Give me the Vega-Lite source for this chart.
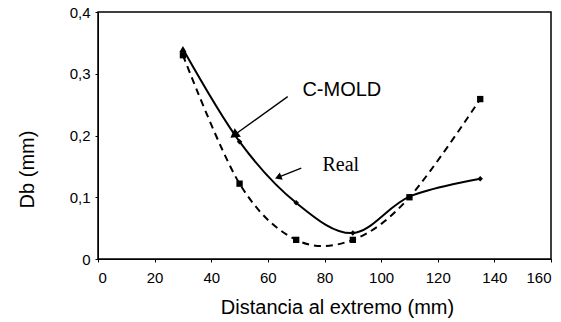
{
  "$schema": "https://vega.github.io/schema/vega-lite/v6.json",
  "width": 453,
  "height": 247,
  "autosize": {"type": "none"},
  "padding": {"left": 98, "top": 12, "right": 10, "bottom": 63},
  "background": "white",
  "config": {
    "font": "Liberation Sans",
    "view": {"stroke": "black", "strokeWidth": 1.5},
    "axis": {
      "domainColor": "black",
      "tickColor": "black",
      "labelColor": "black",
      "titleColor": "black",
      "labelFont": "Liberation Sans",
      "titleFont": "Liberation Sans",
      "labelFontSize": 15,
      "titleFontSize": 20,
      "titleFontWeight": "normal",
      "grid": false,
      "tickSize": 3
    }
  },
  "datasets": {
    "curves": [
      {"serie": "C-MOLD", "x": 30, "y": 0.34},
      {"serie": "C-MOLD", "x": 50, "y": 0.19},
      {"serie": "C-MOLD", "x": 70, "y": 0.091},
      {"serie": "C-MOLD", "x": 90, "y": 0.042},
      {"serie": "C-MOLD", "x": 110, "y": 0.101},
      {"serie": "C-MOLD", "x": 135, "y": 0.13},
      {"serie": "Real", "x": 30, "y": 0.33},
      {"serie": "Real", "x": 50, "y": 0.122},
      {"serie": "Real", "x": 70, "y": 0.031},
      {"serie": "Real", "x": 90, "y": 0.031},
      {"serie": "Real", "x": 110, "y": 0.1},
      {"serie": "Real", "x": 135, "y": 0.259}
    ],
    "arrows": [
      {"label": "C-MOLD", "x": 67, "y": 0.263, "x2": 48.5, "y2": 0.202},
      {"label": "Real", "x": 71.8, "y": 0.147, "x2": 64, "y2": 0.133}
    ],
    "labels": [
      {"label": "C-MOLD", "x": 72.2, "y": 0.274},
      {"label": "Real", "x": 79.3, "y": 0.152}
    ]
  },
  "layer": [
    {
      "data": {"name": "curves"},
      "transform": [{"filter": "datum.serie == 'Real'"}],
      "mark": {"type": "line", "interpolate": "cardinal", "color": "black", "strokeWidth": 2, "strokeDash": [7, 5]},
      "encoding": {
        "x": {"field": "x", "type": "quantitative", "scale": {"domain": [0, 160], "nice": false},
          "axis": {"values": [0, 20, 40, 60, 80, 100, 120, 140, 160], "title": "Distancia al extremo (mm)", "labelPadding": 8, "titleX": 239, "titleY": 54, "titleBaseline": "alphabetic", "titleAlign": "center"}},
        "y": {"field": "y", "type": "quantitative", "scale": {"domain": [0, 0.4], "nice": false},
          "axis": {"values": [0, 0.05, 0.1, 0.15, 0.2, 0.25, 0.3, 0.35, 0.4], "labelPadding": 5,
            "labelExpr": "round(datum.value * 20) % 2 == 1 ? '' : (datum.value == 0 ? '0' : replace(format(datum.value, '.1f'), '.', ','))",
            "title": "Db (mm)", "titleAngle": -90, "titleX": -71, "titleY": 157, "titleBaseline": "middle", "titleAlign": "center"}}
      }
    },
    {
      "data": {"name": "curves"},
      "transform": [{"filter": "datum.serie == 'C-MOLD'"}],
      "mark": {"type": "line", "interpolate": "cardinal", "color": "black", "strokeWidth": 2},
      "encoding": {
        "x": {"field": "x", "type": "quantitative"},
        "y": {"field": "y", "type": "quantitative"}
      }
    },
    {
      "data": {"name": "curves"},
      "transform": [{"filter": "datum.serie == 'Real'"}],
      "mark": {"type": "point", "shape": "square", "filled": true, "color": "black", "size": 40, "opacity": 1},
      "encoding": {
        "x": {"field": "x", "type": "quantitative"},
        "y": {"field": "y", "type": "quantitative"}
      }
    },
    {
      "data": {"name": "curves"},
      "transform": [{"filter": "datum.serie == 'C-MOLD' && datum.x > 40"}],
      "mark": {"type": "point", "shape": "diamond", "filled": true, "color": "black", "size": 30, "opacity": 1},
      "encoding": {
        "x": {"field": "x", "type": "quantitative"},
        "y": {"field": "y", "type": "quantitative"}
      }
    },
    {
      "data": {"name": "curves"},
      "transform": [{"filter": "datum.serie == 'C-MOLD' && datum.x < 40"}],
      "mark": {"type": "point", "shape": "triangle-up", "filled": true, "color": "black", "size": 50, "opacity": 1},
      "encoding": {
        "x": {"field": "x", "type": "quantitative"},
        "y": {"field": "y", "type": "quantitative"}
      }
    },
    {
      "data": {"name": "arrows"},
      "mark": {"type": "rule", "color": "black", "strokeWidth": 1.3},
      "encoding": {
        "x": {"field": "x", "type": "quantitative"},
        "y": {"field": "y", "type": "quantitative"},
        "x2": {"field": "x2"},
        "y2": {"field": "y2"}
      }
    },
    {
      "data": {"name": "arrows"},
      "transform": [{"filter": "datum.label == 'C-MOLD'"}],
      "mark": {"type": "point", "shape": "triangle", "filled": true, "color": "black", "size": 110, "opacity": 1, "angle": 234},
      "encoding": {
        "x": {"field": "x2", "type": "quantitative"},
        "y": {"field": "y2", "type": "quantitative"}
      }
    },
    {
      "data": {"name": "arrows"},
      "transform": [{"filter": "datum.label == 'Real'"}],
      "mark": {"type": "point", "shape": "triangle", "filled": true, "color": "black", "size": 60, "opacity": 1, "angle": 248},
      "encoding": {
        "x": {"field": "x2", "type": "quantitative"},
        "y": {"field": "y2", "type": "quantitative"}
      }
    },
    {
      "data": {"name": "labels"},
      "transform": [{"filter": "datum.label == 'C-MOLD'"}],
      "mark": {"type": "text", "align": "left", "baseline": "middle", "font": "Liberation Sans", "fontSize": 20, "color": "black"},
      "encoding": {
        "x": {"field": "x", "type": "quantitative"},
        "y": {"field": "y", "type": "quantitative"},
        "text": {"field": "label"}
      }
    },
    {
      "data": {"name": "labels"},
      "transform": [{"filter": "datum.label == 'Real'"}],
      "mark": {"type": "text", "align": "left", "baseline": "middle", "font": "Liberation Serif", "fontSize": 20, "color": "black"},
      "encoding": {
        "x": {"field": "x", "type": "quantitative"},
        "y": {"field": "y", "type": "quantitative"},
        "text": {"field": "label"}
      }
    }
  ]
}
